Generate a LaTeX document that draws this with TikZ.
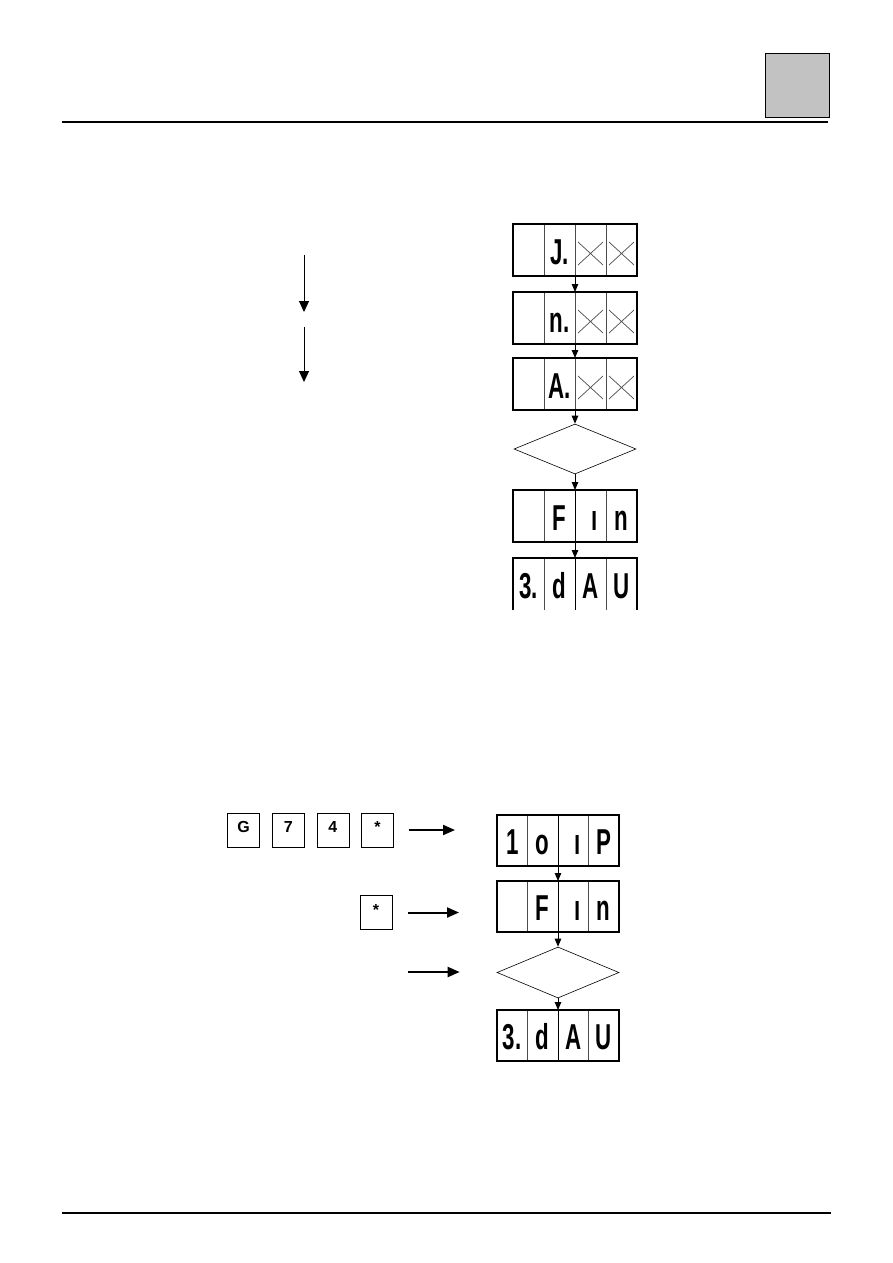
\documentclass[tikz,border=0pt]{standalone}
\usepackage{fontspec}
\setmainfont{Liberation Sans}
\setsansfont{Liberation Sans}
\usetikzlibrary{arrows.meta,positioning,shapes.geometric}

\definecolor{tabgrey}{HTML}{C2C2C2}
\newcommand{\seg}[1]{\scalebox{0.62}[1]{#1}}

\begin{document}
\begin{tikzpicture}[x=1pt,y=-1pt,font=\sffamily,
        >={Triangle[length=8pt,width=6.5pt]}]
    \tikzstyle{cell}=[draw=black!70,line width=0.6pt,inner sep=0pt,outer sep=0pt,
        minimum width=31pt,minimum height=52pt,text height=29pt,text depth=0pt,
        font=\sffamily\bfseries\fontsize{36}{36}\selectfont]
    \tikzstyle{bcell}=[cell,minimum width=30.5pt,minimum height=51pt,text height=28pt]
    \tikzstyle{ocell}=[cell,draw=none]
    \tikzstyle{xcell}=[cell,path picture={\draw[line width=0.7pt]
        ([shift={(3pt,-18pt)}]path picture bounding box.north west) --
        ([shift={(-3pt,11pt)}]path picture bounding box.south east)
        ([shift={(-3pt,-18pt)}]path picture bounding box.north east) --
        ([shift={(3pt,11pt)}]path picture bounding box.south west);}]
    \tikzstyle{frame}=[line width=1.3pt]
    \tikzstyle{decision}=[diamond,draw,line width=0.6pt,inner sep=0pt,
        minimum width=122pt,minimum height=50pt]
    \tikzstyle{flow}=[->,line width=1pt]
    \tikzstyle{bigarrow}=[-{Triangle[length=11pt,width=10pt]},line width=1pt]
    \tikzstyle{keyarrow}=[-{Triangle[length=12pt,width=10pt]},line width=2pt]
    \tikzstyle{key}=[draw,line width=0.7pt,inner sep=0pt,minimum width=32pt,
        minimum height=34pt,text height=12pt,text depth=7pt,
        font=\sffamily\bfseries\fontsize{16}{16}\selectfont]
    \tikzstyle{tab}=[draw,fill=tabgrey,line width=1.5pt,inner sep=0pt,minimum size=64pt]

    \useasboundingbox (0,0) rectangle (893,1263);

    % page header and footer
    \draw[line width=2pt] (62,122) -- (828,122);
    \node[tab] (tab) at (797.5,85.5) {};
    \draw[line width=2pt] (62,1213) -- (831,1213);

    % upper sequence
    \coordinate (s1) at (304,255);
    \coordinate (e1) at (304,312);
    \coordinate (s2) at (304,327);
    \coordinate (e2) at (304,382);
    \draw[bigarrow] (s1) -- (e1);
    \draw[bigarrow] (s2) -- (e2);

    \node[cell,anchor=north west] (t1a) at (513,224) {};
    \node[cell,right=0pt of t1a] (t1b) {\seg{J.}};
    \node[xcell,right=0pt of t1b] (t1c) {};
    \node[xcell,right=0pt of t1c] (t1d) {};
    \draw[frame] (t1a.north west) rectangle (t1d.south east);

    \node[cell,anchor=north west] (t2a) at (513,292) {};
    \node[cell,right=0pt of t2a] (t2b) {\seg{n.}};
    \node[xcell,right=0pt of t2b] (t2c) {};
    \node[xcell,right=0pt of t2c] (t2d) {};
    \draw[frame] (t2a.north west) rectangle (t2d.south east);

    \node[cell,anchor=north west] (t3a) at (513,358) {};
    \node[cell,right=0pt of t3a] (t3b) {\seg{A.}};
    \node[xcell,right=0pt of t3b] (t3c) {};
    \node[xcell,right=0pt of t3c] (t3d) {};
    \draw[frame] (t3a.north west) rectangle (t3d.south east);

    \node[decision] (tm) at (575,449) {};

    \node[cell,anchor=north west] (t4a) at (513,490) {};
    \node[cell,right=0pt of t4a] (t4b) {\seg{F}};
    \node[cell,right=0pt of t4b] (t4c) {\hspace*{9pt}\seg{ı}};
    \node[cell,right=0pt of t4c] (t4d) {\seg{n}};
    \draw[frame] (t4a.north west) rectangle (t4d.south east);

    \node[ocell,anchor=north west] (t5a) at (513,558) {\seg{3.}};
    \node[ocell,right=0pt of t5a] (t5b) {\seg{d}};
    \node[ocell,right=0pt of t5b] (t5c) {\seg{A}};
    \node[ocell,right=0pt of t5c] (t5d) {\seg{U}};
    \draw[line width=0.6pt,black!70] (t5a.north east) -- (t5a.south east)
        (t5c.north east) -- (t5c.south east);
    \draw[frame] (t5a.south west) -- (t5a.north west) -- (t5d.north east) -- (t5d.south east);

    \draw[flow] (t1b.south east) -- (t2b.north east);
    \draw[flow] (t2b.south east) -- (t3b.north east);
    \draw[flow] (t3b.south east) -- (tm.north);
    \draw[flow] (tm.south) -- (t4b.north east);
    \draw[flow] (t4b.north east) -- (t5b.north east);
    \draw[line width=1pt] (t5b.north east) -- (t5b.south east);

    % lower sequence
    \node[key] (k1) at (243.5,830) {G};
    \node[key,right=12pt of k1] (k2) {7};
    \node[key,right=12pt of k2] (k3) {4};
    \node[key,right=12pt of k3] (k4) {*};
    \node[key] (k5) at (376,912.5) {*};
    \coordinate (k6) at (408,972);

    \node[bcell,anchor=north west] (b1a) at (497,815) {\seg{1}};
    \node[bcell,right=0pt of b1a] (b1b) {\seg{o}};
    \node[bcell,right=0pt of b1b] (b1c) {\hspace*{9pt}\seg{ı}};
    \node[bcell,right=0pt of b1c] (b1d) {\seg{P}};
    \draw[frame] (b1a.north west) rectangle (b1d.south east);

    \node[bcell,anchor=north west] (b2a) at (497,881) {};
    \node[bcell,right=0pt of b2a] (b2b) {\seg{F}};
    \node[bcell,right=0pt of b2b] (b2c) {\hspace*{9pt}\seg{ı}};
    \node[bcell,right=0pt of b2c] (b2d) {\seg{n}};
    \draw[frame] (b2a.north west) rectangle (b2d.south east);

    \node[decision,minimum height=51pt] (bm) at (558,972.5) {};

    \node[bcell,anchor=north west] (b3a) at (497,1010) {\seg{3.}};
    \node[bcell,right=0pt of b3a] (b3b) {\seg{d}};
    \node[bcell,right=0pt of b3b] (b3c) {\seg{A}};
    \node[bcell,right=0pt of b3c] (b3d) {\seg{U}};
    \draw[frame] (b3a.north west) rectangle (b3d.south east);

    \draw[keyarrow,shorten <=15pt,shorten >=42pt] (k4.east) -- (k4.east -| b1a.west);
    \draw[keyarrow,shorten <=16pt,shorten >=38pt] (k5.east) -- (k5.east -| b2a.west);
    \draw[keyarrow,shorten >=37pt] (k6) -- (k6 -| bm.west);

    \draw[line width=1pt] (b1b.north east) -- (b1b.south east);
    \draw[flow] (b1b.south east) -- (b2b.north east);
    \draw[flow] (b2b.north east) -- (bm.north);
    \draw[flow] (bm.south) -- (b3b.north east);
    \draw[line width=1pt] (b3b.north east) -- (b3b.south east);
\end{tikzpicture}
\end{document}
